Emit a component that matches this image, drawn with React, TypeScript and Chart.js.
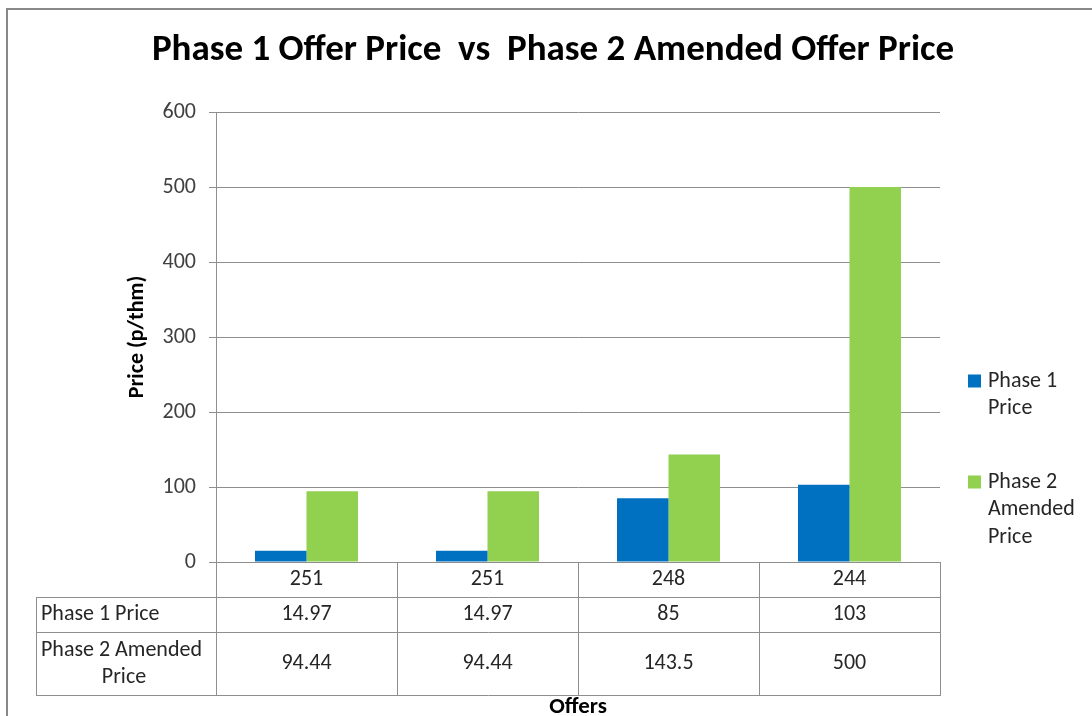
import { useEffect, useRef } from "react";
import { Chart, registerables } from "chart.js";
Chart.register(...registerables);

const categories = ["251", "251", "248", "244"];
const phase1Price = [14.97, 14.97, 85, 103];
const phase2Price = [94.44, 94.44, 143.5, 500];
const seriesNames = ["Phase 1 Price", "Phase 2 Amended Price"];
const legendLines = [["Phase 1", "Price"], ["Phase 2", "Amended", "Price"]];
const tableRowLines = [["Phase 1 Price"], ["Phase 2 Amended", "Price"]];
const titleText = "Phase 1 Offer Price  vs  Phase 2 Amended Offer Price";
const yAxisTitle = "Price (p/thm)";
const xAxisTitle = "Offers";
const yMin = 0;
const yMax = 600;
const yStep = 100;

const FONT = "Carlito, Calibri, Lato, sans-serif";
const COLORS = ["#0070C0", "#92D050"];
const LINE = "#8e8e8e";
const TEXT = "#262626";
const FS = 22;

const overlay = {
  id: "overlay",
  afterDraw(chart: any) {
    const ctx = chart.ctx as CanvasRenderingContext2D;
    const area = chart.chartArea;
    const n = categories.length;
    const cw = (area.right - area.left) / n;
    ctx.save();

    // frame
    ctx.fillStyle = "#888888";
    ctx.fillRect(6, 8, 1092 - 6, 2);
    ctx.fillRect(6, 8, 2, 716 - 8);

    // title
    ctx.fillStyle = "#000000";
    ctx.font = `bold 37px ${FONT}`;
    ctx.textAlign = "center";
    ctx.textBaseline = "middle";
    ctx.fillText(titleText, 553, 51);

    // legend
    const legendY = [381, 482];
    const lh = 27.5;
    ctx.font = `${FS}px ${FONT}`;
    ctx.textAlign = "left";
    legendLines.forEach((lines, i) => {
      const y0 = legendY[i];
      ctx.fillStyle = COLORS[i];
      ctx.fillRect(968, y0 - 6.5, 13, 13);
      ctx.fillStyle = TEXT;
      lines.forEach((t, j) => ctx.fillText(t, 988, y0 + j * lh));
    });

    // data table
    const top = area.bottom;
    const rows = [top, top + 35, top + 70, top + 133];
    const labelLeft = 36;
    ctx.strokeStyle = LINE;
    ctx.lineWidth = 1;
    ctx.beginPath();
    for (let i = 0; i <= n; i++) {
      const x = Math.round(area.left + i * cw) + 0.5;
      ctx.moveTo(x, rows[0]);
      ctx.lineTo(x, rows[3]);
    }
    ctx.moveTo(labelLeft + 0.5, rows[1]);
    ctx.lineTo(labelLeft + 0.5, rows[3]);
    for (let r = 1; r <= 3; r++) {
      const y = Math.round(rows[r]) + 0.5;
      ctx.moveTo(labelLeft, y);
      ctx.lineTo(Math.round(area.right) + 1, y);
    }
    ctx.stroke();

    ctx.fillStyle = TEXT;
    ctx.font = `${FS}px ${FONT}`;
    ctx.textAlign = "center";
    const values = [phase1Price, phase2Price];
    categories.forEach((c, i) => {
      const cx = area.left + (i + 0.5) * cw;
      ctx.fillText(c, cx, (rows[0] + rows[1]) / 2);
      values.forEach((vals, r) => {
        ctx.fillText(String(vals[i]), cx, (rows[r + 1] + rows[r + 2]) / 2);
      });
    });
    // row labels
    ctx.textAlign = "left";
    ctx.fillText(tableRowLines[0][0], 41, (rows[1] + rows[2]) / 2);
    ctx.fillText(tableRowLines[1][0], 41, (rows[2] + rows[3]) / 2 - 13.5);
    ctx.textAlign = "center";
    ctx.fillText(tableRowLines[1][1], 124, (rows[2] + rows[3]) / 2 + 13.5);

    ctx.restore();
  },
};

export default function App() {
  const ref = useRef<HTMLCanvasElement>(null);
  useEffect(() => {
    document.body.style.margin = "0";
    const canvas = ref.current!;
    const chart = new Chart(canvas, {
      type: "bar",
      data: {
        labels: categories,
        datasets: [
          { label: seriesNames[0], data: phase1Price, backgroundColor: COLORS[0] },
          { label: seriesNames[1], data: phase2Price, backgroundColor: COLORS[1] },
        ],
      },
      options: {
        responsive: false,
        animation: false,
        layout: { padding: { top: 112, right: 152, bottom: 0, left: 0 } },
        datasets: { bar: { categoryPercentage: 0.569, barPercentage: 1 } },
        plugins: {
          legend: { display: false },
          title: { display: false },
          tooltip: { enabled: false },
        },
        scales: {
          x: {
            afterFit(scale: any) {
              scale.height = 154;
            },
            ticks: { display: false },
            grid: { display: false },
            border: { display: false },
            title: {
              display: true,
              text: xAxisTitle,
              color: "#000",
              font: { family: FONT, size: 23, weight: "bold", lineHeight: 0.8 },
              padding: { top: 0, bottom: 0 },
            },
          },
          y: {
            min: yMin,
            max: yMax,
            afterFit(scale: any) {
              scale.width = 216;
            },
            ticks: {
              stepSize: yStep,
              color: "#404040",
              padding: 13,
              font: { family: FONT, size: FS },
            },
            grid: { color: LINE, tickLength: 7, drawTicks: true },
            border: { display: true, color: LINE },
            title: {
              display: true,
              text: yAxisTitle,
              color: "#000",
              font: { family: FONT, size: 22, weight: "bold", lineHeight: 1 },
              padding: { top: 126, bottom: 0 },
            },
          },
        },
      },
      plugins: [overlay],
    });
    return () => chart.destroy();
  }, []);
  return <canvas ref={ref} width={1092} height={716} style={{ display: "block" }} />;
}
